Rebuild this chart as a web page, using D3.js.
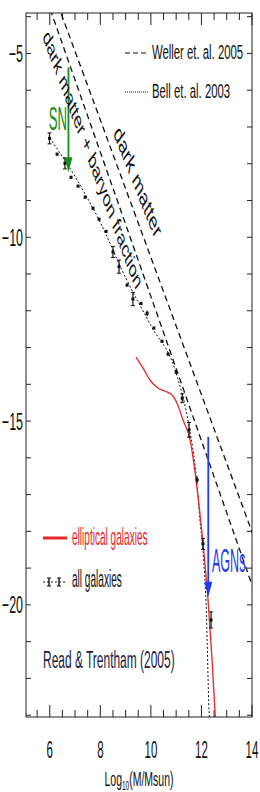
<!DOCTYPE html>
<html>
<head>
<meta charset="utf-8">
<script src="https://cdn.jsdelivr.net/npm/d3@7"></script>
<style>
body { margin: 0; background: #fff; }
text { font-family: "Liberation Sans", Arial, sans-serif; }
</style>
</head>
<body>
<div id="chart"></div>
<script>
// all galaxies (Read & Trentham 2005)
const allMass = [5.99, 6.29, 6.60, 6.84, 7.12, 7.40, 7.71, 7.95, 8.23, 8.50, 8.74, 9.06, 9.29, 9.61, 9.85, 10.12, 10.44, 10.68, 11.00, 11.24, 11.51, 11.83, 12.06, 12.38];
const allPhi = [-7.31, -7.74, -7.99, -8.37, -8.61, -8.91, -9.21, -9.51, -9.84, -10.40, -10.80, -11.30, -11.68, -11.80, -12.07, -12.47, -12.83, -13.18, -13.67, -14.38, -15.24, -16.60, -18.34, -20.41];
const allErr = [0.15, 0.04, 0.15, 0.04, 0.04, 0.04, 0.04, 0.04, 0.04, 0.15, 0.18, 0.04, 0.18, 0.04, 0.08, 0.04, 0.04, 0.04, 0.04, 0.12, 0.2, 0.1, 0.15, 0.22];

// elliptical galaxies
const ellMass = [9.41, 9.69, 9.97, 10.28, 10.64, 10.88, 11.03, 11.27, 11.55, 11.82, 12.06, 12.26, 12.42, 12.56];
const ellPhi = [-13.26, -13.56, -13.89, -14.10, -14.21, -14.32, -14.51, -14.97, -15.51, -16.79, -18.32, -19.86, -21.49, -23.2];

// Bell et al. 2003
const bellMass = [6.0, 7.0, 8.0, 9.0, 10.0, 11.0, 11.5, 11.8, 11.94, 12.06, 12.2, 12.3, 12.34];
const bellPhi = [-7.3, -8.35, -9.6, -11.1, -12.4, -13.7, -15.1, -16.55, -17.69, -18.5, -20.3, -22.9, -23.4];

// Weller et al. 2005
const dmMass = [5.5, 14.2];
const dmPhi = [-2.14, -18.39];
const dmbMass = [5.5, 14.2];
const dmbPhi = [-2.78, -19.85];

const snMass = 6.74, snFrom = -5.38, snTo = -8.23;
const agnMass = 12.27, agnFrom = -15.43, agnTo = -19.78;

const xTicks = [6, 8, 10, 12, 14];
const yTicks = [-5, -10, -15, -20];

const width = 260;
const height = 792;

const svg = d3.select('#chart')
    .append('svg')
    .attr('width', width)
    .attr('height', height);

const x = d3.scaleLinear().domain([5.06, 14]).range([26, 252]);
const y = d3.scaleLinear().domain([-3.9, -23.05]).range([13, 717]);

svg.append('defs').append('clipPath').attr('id', 'plot')
    .append('rect')
    .attr('x', 26).attr('y', 13)
    .attr('width', 226).attr('height', 704);

// condensed looking text
function label(px, py, s, size, sx, color, anchor, rot) {
    return svg.append('text')
        .attr('transform', `translate(${px},${py}) scale(${sx},1)` + (rot ? ` rotate(${rot})` : ''))
        .attr('font-size', size)
        .attr('fill', color)
        .attr('text-anchor', anchor || 'start')
        .text(s);
}

// ticks
const tk = svg.append('g').attr('stroke', '#222').attr('stroke-width', 1);
d3.range(5.5, 14.01, 0.5).forEach(v => {
    const len = xTicks.includes(v) ? 12 : 7;
    tk.append('line').attr('x1', x(v)).attr('x2', x(v)).attr('y1', 717).attr('y2', 717 - len);
    tk.append('line').attr('x1', x(v)).attr('x2', x(v)).attr('y1', 13).attr('y2', 13 + len);
});
d3.range(-4, -23.5, -1).forEach(v => {
    tk.append('line').attr('x1', 26).attr('x2', 31).attr('y1', y(v)).attr('y2', y(v));
    tk.append('line').attr('x1', 252).attr('x2', 247).attr('y1', y(v)).attr('y2', y(v));
});

xTicks.forEach(v => label(x(v), 758, v, 23, 0.5, '#111', 'middle'));
yTicks.forEach(v => label(23, y(v) + 8.5, '\u2212' + Math.abs(v), 24, 0.52, '#111', 'end'));

const xt = label(139, 786, 'Log', 21, 0.5, '#111', 'middle');
xt.append('tspan').attr('font-size', 13).attr('dy', 4).text('10');
xt.append('tspan').attr('dy', -4).text('(M/Msun)');

const plot = svg.append('g').attr('clip-path', 'url(#plot)');

const line = d3.line().x(d => x(d[0])).y(d => y(d[1]));
const smooth = d3.line().x(d => x(d[0])).y(d => y(d[1])).curve(d3.curveMonotoneX);

plot.append('path')
    .attr('d', line(d3.zip(dmMass, dmPhi)))
    .attr('fill', 'none').attr('stroke', '#111').attr('stroke-width', 1.3)
    .attr('stroke-dasharray', '6,4');
plot.append('path')
    .attr('d', line(d3.zip(dmbMass, dmbPhi)))
    .attr('fill', 'none').attr('stroke', '#111').attr('stroke-width', 1.3)
    .attr('stroke-dasharray', '6,4');

plot.append('path')
    .attr('d', smooth(d3.zip(bellMass, bellPhi)))
    .attr('fill', 'none').attr('stroke', '#111').attr('stroke-width', 1)
    .attr('stroke-dasharray', '2,2');

plot.append('path')
    .attr('d', smooth(d3.zip(ellMass, ellPhi)))
    .attr('fill', 'none').attr('stroke', '#e8262b').attr('stroke-width', 1.3);

// points with error bars
const pts = plot.append('g').attr('stroke', '#111').attr('fill', '#111');
allMass.forEach((m, i) => {
    const cx = x(m);
    const y1 = y(allPhi[i] + allErr[i]);
    const y2 = y(allPhi[i] - allErr[i]);
    pts.append('line').attr('x1', cx).attr('x2', cx).attr('y1', y1).attr('y2', y2).attr('stroke-width', 1.2);
    if (allErr[i] > 0.1) {
        pts.append('line').attr('x1', cx - 2).attr('x2', cx + 2).attr('y1', y1).attr('y2', y1);
        pts.append('line').attr('x1', cx - 2).attr('x2', cx + 2).attr('y1', y2).attr('y2', y2);
    }
    pts.append('rect').attr('x', cx - 1.5).attr('y', y(allPhi[i]) - 1.5).attr('width', 3).attr('height', 3).attr('stroke', 'none');
});

// arrows
function arrow(m, from, to, color) {
    const ax = x(m);
    svg.append('line').attr('x1', ax).attr('x2', ax).attr('y1', y(from)).attr('y2', y(to) - 12)
        .attr('stroke', color).attr('stroke-width', 1.8);
    svg.append('path')
        .attr('d', `M${ax - 4},${y(to) - 15}L${ax + 4},${y(to) - 15}L${ax},${y(to)}Z`)
        .attr('fill', color);
}
arrow(snMass, snFrom, snTo, '#1a8a1a');
arrow(agnMass, agnFrom, agnTo, '#1f3cf2');
label(67, 130, 'SN', 33, 0.4, '#1a8a1a', 'end');
label(212, 572, 'AGNs', 33, 0.38, '#1f3cf2');

// rotated line labels
label(89, 164, 'dark matter + baryon fraction', 24, 0.54, '#111', 'middle', 55.6);
label(134, 187, 'dark matter', 26, 0.54, '#111', 'middle', 53.8);

// legend
svg.append('line').attr('x1', 125).attr('x2', 148).attr('y1', 53).attr('y2', 53)
    .attr('stroke', '#111').attr('stroke-width', 1.2).attr('stroke-dasharray', '5,3');
label(152, 59, 'Weller et. al. 2005', 21, 0.54, '#111');
svg.append('line').attr('x1', 125).attr('x2', 148).attr('y1', 92).attr('y2', 92)
    .attr('stroke', '#111').attr('stroke-width', 1).attr('stroke-dasharray', '1,1');
label(152, 98, 'Bell et. al. 2003', 21, 0.54, '#111');

svg.append('line').attr('x1', 43).attr('x2', 67).attr('y1', 538).attr('y2', 538)
    .attr('stroke', '#e8262b').attr('stroke-width', 3);
label(72, 545, 'elliptical galaxies', 24, 0.42, '#e8262b');

svg.append('line').attr('x1', 43).attr('x2', 67).attr('y1', 582).attr('y2', 582)
    .attr('stroke', '#111').attr('stroke-width', 1).attr('stroke-dasharray', '2,2');
[49, 59].forEach(lx => {
    svg.append('line').attr('x1', lx).attr('x2', lx).attr('y1', 578).attr('y2', 586).attr('stroke', '#111').attr('stroke-width', 1.4);
    svg.append('line').attr('x1', lx - 2).attr('x2', lx + 2).attr('y1', 578).attr('y2', 578).attr('stroke', '#111');
    svg.append('line').attr('x1', lx - 2).attr('x2', lx + 2).attr('y1', 586).attr('y2', 586).attr('stroke', '#111');
});
label(72, 587, 'all galaxies', 24, 0.42, '#111');

label(43, 668, 'Read & Trentham (2005)', 23, 0.52, '#1a1a40');

// frame
svg.append('rect')
    .attr('x', 26).attr('y', 13)
    .attr('width', 226).attr('height', 704)
    .attr('fill', 'none').attr('stroke', '#222').attr('stroke-width', 1);
</script>
</body>
</html>
